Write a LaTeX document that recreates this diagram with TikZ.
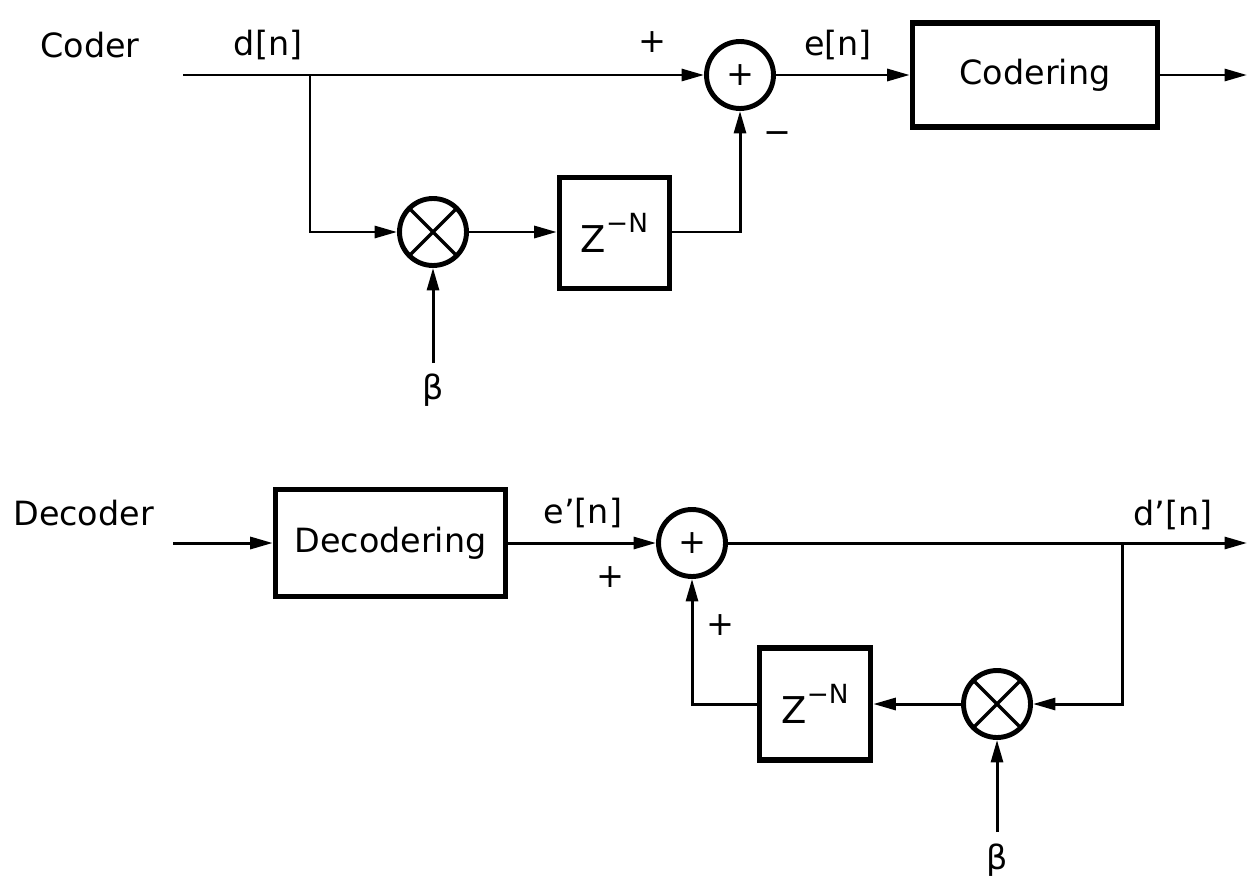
\documentclass[tikz,border=0pt]{standalone}
\usepackage{fontspec}
\setmainfont{DejaVu Sans}
\usetikzlibrary{arrows.meta}
\begin{document}
\begin{tikzpicture}[x=0.02cm,y=-0.02cm,
  every node/.style={font=\fontsize{19}{22}\selectfont},
  conn/.style={line width=1.7pt},
  arr/.style={conn,-{Triangle[length=0.45cm,width=0.24cm]}},
  blk/.style={draw,line width=3.2pt,rectangle,inner sep=0pt},
  sumc/.style={draw,circle,line width=2.8pt,minimum size=1.34cm,inner sep=0pt},
  multc/.style={sumc,path picture={
     \draw[line width=1.9pt] (path picture bounding box.north west) -- (path picture bounding box.south east)
                             (path picture bounding box.north east) -- (path picture bounding box.south west);}},
  lbl/.style={inner sep=0pt},
  zlbl/.style={font=\fontsize{21}{24}\selectfont}
]
\useasboundingbox (0,0) rectangle (1250,875);

% ---------------- Coder ----------------
\node[lbl,anchor=west] (tcoder) at (40,45) {Coder};
\node[lbl] (tdn) at (268,45) {d[n]};
\node[sumc] (sum1) at (740,75) {+};
\node[multc] (mult1) at (433,232) {};
\node[blk,zlbl,minimum width=2.2cm,minimum height=2.22cm] (z1) at (614.5,233) {Z\raisebox{11pt}{\fontsize{15}{15}\selectfont −N}};
\node[blk,minimum width=4.9cm,minimum height=2.08cm] (cod) at (1035,75) {Codering};
\node[lbl] (tplus1) at (652,42) {+};
\node[lbl] (ten) at (838,45) {e[n]};
\node[lbl] (tminus) at (777,138) {−};
\node[lbl] (tbeta1) at (433,390) {β};

\coordinate (cin) at (183,75);
\coordinate (br1) at (310,75);
\coordinate (cout) at (1247,75);
\coordinate (beta1) at (433,363);

\draw[arr] (cin) -- (sum1.west);
\draw[arr] (br1) |- (mult1.west);
\draw[arr] (mult1.east) -- (z1.west |- mult1.east);
\draw[arr] (z1.east |- mult1.east) -| (sum1.south);
\draw[arr] (sum1.east) -- (cod.west);
\draw[arr] (cod.east) -- (cout);
\draw[arr] (beta1) -- (mult1.south);

% ---------------- Decoder ----------------
\node[lbl,anchor=west] (tdecoder) at (13,513) {Decoder};
\node[blk,minimum width=4.6cm,minimum height=2.14cm] (dec) at (390.5,543) {Decodering};
\node[sumc] (sum2) at (692,543) {+};
\node[blk,zlbl,minimum width=2.22cm,minimum height=2.24cm] (z2) at (815,704) {Z\raisebox{11pt}{\fontsize{15}{15}\selectfont −N}};
\node[multc] (mult2) at (997,704) {};
\node[lbl] (ten2) at (583,513) {e'[n]};
\node[lbl] (tplus2) at (610,577) {+};
\node[lbl] (tplus3) at (720,625) {+};
\node[lbl] (tdn2) at (1173,515) {d'[n]};
\node[lbl] (tbeta2) at (997,860) {β};

\coordinate (din) at (173,543);
\coordinate (dout) at (1247,543);
\coordinate (br2) at (1122,543);
\coordinate (beta2) at (997,832);

\draw[arr] (din) -- (dec.west);
\draw[arr] (dec.east) -- (sum2.west);
\draw[arr] (sum2.east) -- (dout);
\draw[arr] (br2) |- (mult2.east);
\draw[arr] (mult2.west) -- (z2.east);
\draw[arr] (z2.west) -| (sum2.south);
\draw[arr] (beta2) -- (mult2.south);
\end{tikzpicture}
\end{document}
